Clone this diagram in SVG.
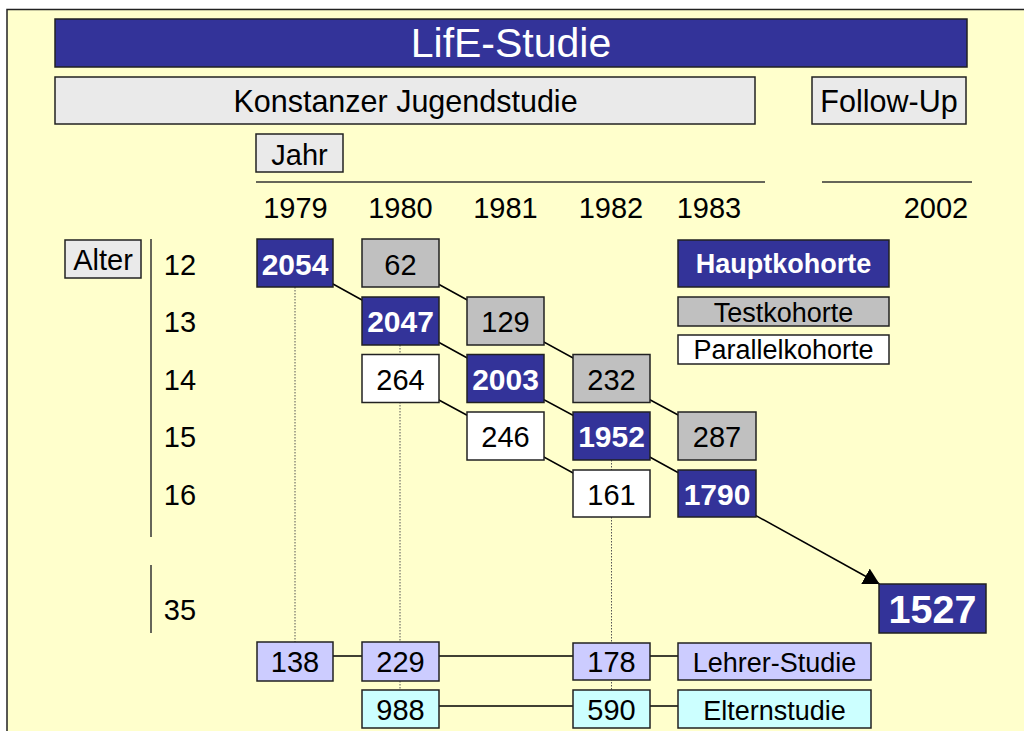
<svg xmlns="http://www.w3.org/2000/svg" width="1024" height="731" viewBox="0 0 1024 731">
<style>
text{font-family:"Liberation Sans",Arial,sans-serif;font-size:29px;fill:#000;text-anchor:middle}
.w{fill:#fff}
.b{font-weight:bold;font-size:30px}
.h{font-size:30.5px}
.box{stroke:#222;stroke-width:1.5}
.main{fill:#333399}
.test{fill:#C0C0C0}
.par{fill:#FFFFFF}
.lav{fill:#CCCCFF}
.cyan{fill:#CCFFFF}
.hdr{fill:#EAEAEA}
.leg{font-size:27px}
.con{stroke:#000;stroke-width:1.5;fill:none}
.dot{stroke:#555;stroke-width:1;stroke-dasharray:1.5 1.5;fill:none}
.axis{stroke:#333;stroke-width:1.5;fill:none}
</style>
<defs>
<marker id="ah" markerUnits="userSpaceOnUse" markerWidth="17" markerHeight="18" refX="16" refY="8.75" orient="auto" viewBox="0 0 17 18">
<path d="M0,0 L16,8.75 L0,17.5 z" fill="#000"/>
</marker>
</defs>
<rect x="0" y="0" width="1024" height="731" fill="#fff"/>
<rect x="7" y="9.5" width="1030" height="730" fill="#FFFFCC" stroke="#222" stroke-width="1.5"/>

<g id="header">
<rect class="box main" x="55" y="19" width="912" height="48"/>
<text class="w" x="511" y="57" style="font-size:41px">LifE-Studie</text>
<rect class="box hdr" x="55" y="77" width="700" height="47"/>
<text class="h" x="405.5" y="112">Konstanzer Jugendstudie</text>
<rect class="box hdr" x="812" y="77" width="154" height="47"/>
<text class="h" x="889" y="112">Follow-Up</text>
<rect class="box hdr" x="256" y="134" width="87" height="38"/>
<text x="299.5" y="165">Jahr</text>
</g>

<g id="axes">
<line class="axis" x1="256" y1="182" x2="765" y2="182"/>
<line class="axis" x1="822" y1="182" x2="972" y2="182"/>
<text x="295.5" y="218">1979</text>
<text x="400.5" y="218">1980</text>
<text x="505.5" y="218">1981</text>
<text x="611" y="218">1982</text>
<text x="709" y="218">1983</text>
<text x="936" y="218">2002</text>
<rect class="box hdr" x="65" y="240" width="76" height="38"/>
<text x="103" y="270">Alter</text>
<line class="axis" x1="151" y1="239" x2="151" y2="537"/>
<line class="axis" x1="151" y1="565" x2="151" y2="633"/>
<text x="180" y="275">12</text>
<text x="180" y="332">13</text>
<text x="180" y="390">14</text>
<text x="180" y="447">15</text>
<text x="180" y="505">16</text>
<text x="180" y="620">35</text>
</g>

<g id="connectors">
<line class="dot" x1="295" y1="287" x2="295" y2="642"/>
<line class="dot" x1="400" y1="345" x2="400" y2="690"/>
<line class="dot" x1="611.5" y1="460" x2="611.5" y2="690"/>
<polyline class="con" points="295,263 400,321 505.5,379 611.5,436 717,494"/>
<polyline class="con" points="400,263 505.5,321 611.5,379 717,436"/>
<polyline class="con" points="400,379 505.5,436 611.5,494"/>
<line class="con" x1="717" y1="494" x2="879.5" y2="584" marker-end="url(#ah)"/>
<line class="con" x1="333" y1="656" x2="678" y2="656"/>
<line class="con" x1="439" y1="706" x2="678" y2="706"/>
</g>

<g id="n2054"><rect class="box main" x="257" y="239" width="76" height="48"/><text class="w b" x="295" y="275">2054</text></g>
<g id="n62"><rect class="box test" x="362" y="239" width="77" height="48"/><text x="400.5" y="275">62</text></g>
<g id="n2047"><rect class="box main" x="362" y="297" width="77" height="48"/><text class="w b" x="400.5" y="332">2047</text></g>
<g id="n264"><rect class="box par" x="362" y="354.5" width="77" height="48"/><text x="400.5" y="390">264</text></g>
<g id="n129"><rect class="box test" x="467" y="297" width="77" height="48"/><text x="505.5" y="332">129</text></g>
<g id="n2003"><rect class="box main" x="467" y="354.5" width="77" height="48"/><text class="w b" x="505.5" y="390">2003</text></g>
<g id="n246"><rect class="box par" x="467" y="412" width="77" height="48"/><text x="505.5" y="447">246</text></g>
<g id="n232"><rect class="box test" x="573" y="354.5" width="77" height="48"/><text x="611.5" y="390">232</text></g>
<g id="n1952"><rect class="box main" x="573" y="412" width="77" height="48"/><text class="w b" x="611.5" y="447">1952</text></g>
<g id="n161"><rect class="box par" x="573" y="470" width="77" height="47"/><text x="611.5" y="505">161</text></g>
<g id="n287"><rect class="box test" x="678" y="412" width="78" height="48"/><text x="717" y="447">287</text></g>
<g id="n1790"><rect class="box main" x="678" y="470" width="78" height="47"/><text class="w b" x="717" y="505">1790</text></g>
<g id="n1527"><rect class="box main" x="879" y="584" width="107" height="49"/><text class="w b" x="932.5" y="623" style="font-size:39.5px">1527</text></g>

<g id="legend">
<rect class="box main" x="678" y="240" width="211" height="47"/>
<text class="w b" x="783.5" y="273" style="font-size:27px">Hauptkohorte</text>
<rect class="box test" x="678" y="297" width="211" height="29"/>
<text class="leg" x="783.5" y="322">Testkohorte</text>
<rect class="box par" x="678" y="335" width="211" height="29"/>
<text class="leg" x="783.5" y="359">Parallelkohorte</text>
</g>

<g id="n138"><rect class="box lav" x="257" y="642" width="76" height="39"/><text x="295" y="672">138</text></g>
<g id="n229"><rect class="box lav" x="362" y="642" width="77" height="39"/><text x="400.5" y="672">229</text></g>
<g id="n178"><rect class="box lav" x="573" y="643" width="77" height="37"/><text x="611.5" y="672">178</text></g>
<g id="lehrer"><rect class="box lav" x="678" y="643" width="193" height="37"/><text class="leg" x="774.5" y="672">Lehrer-Studie</text></g>
<g id="n988"><rect class="box cyan" x="362" y="690" width="77" height="38"/><text x="400.5" y="720">988</text></g>
<g id="n590"><rect class="box cyan" x="573" y="690" width="77" height="38"/><text x="611.5" y="720">590</text></g>
<g id="eltern"><rect class="box cyan" x="678" y="690" width="193" height="38"/><text class="leg" x="774.5" y="720">Elternstudie</text></g>
</svg>
